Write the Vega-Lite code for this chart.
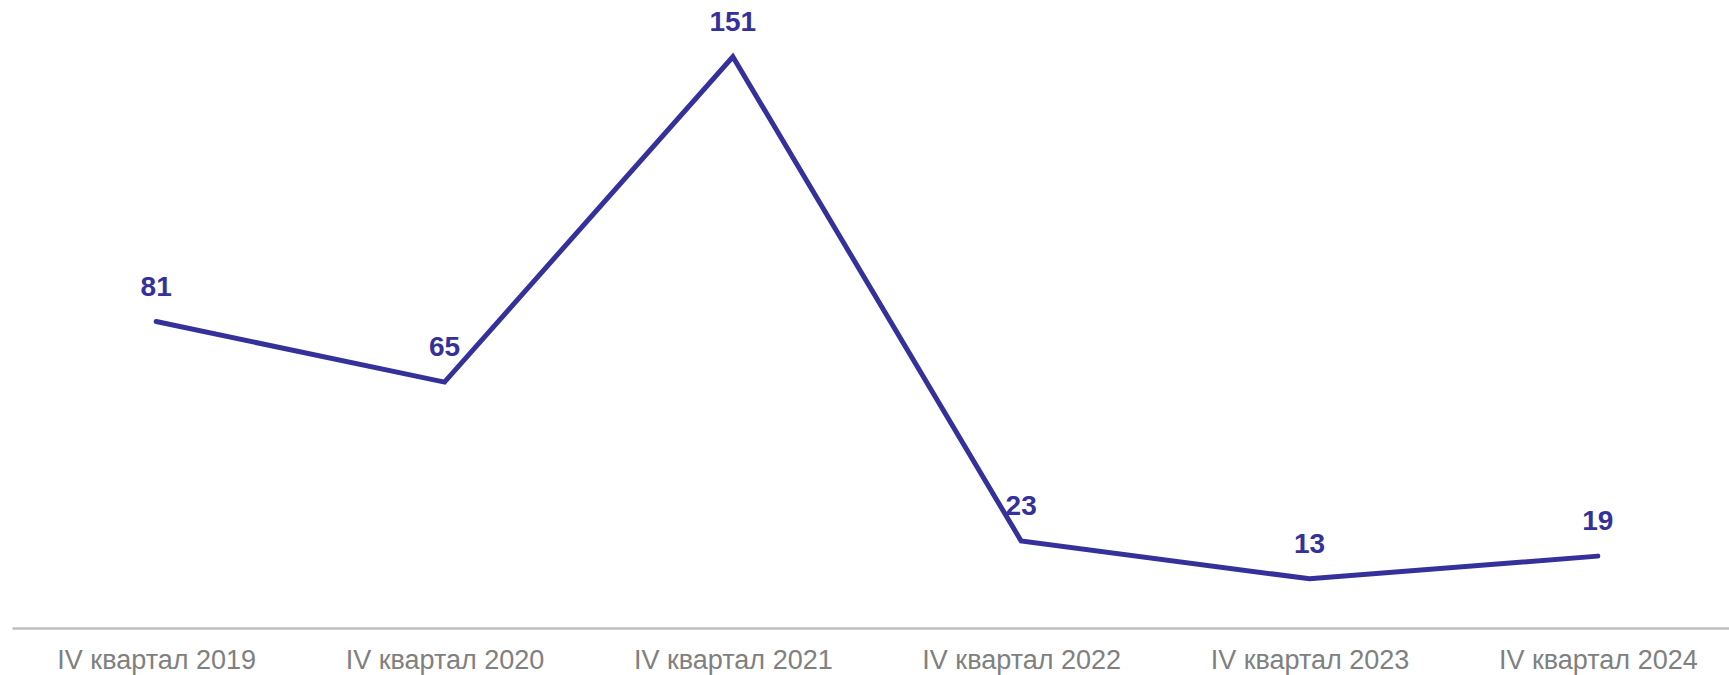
{
  "$schema": "https://vega.github.io/schema/vega-lite/v6.json",
  "autosize": {"type": "none"},
  "padding": {"left": 12, "top": 0, "right": 0, "bottom": 47},
  "width": 1730,
  "height": 628,
  "background": "white",
  "config": {"view": {"stroke": null}, "font": "Liberation Sans"},
  "data": {
    "values": [
      {"period": "IV квартал 2019", "value": 81},
      {"period": "IV квартал 2020", "value": 65},
      {"period": "IV квартал 2021", "value": 151},
      {"period": "IV квартал 2022", "value": 23},
      {"period": "IV квартал 2023", "value": 13},
      {"period": "IV квартал 2024", "value": 19}
    ]
  },
  "encoding": {
    "x": {
      "field": "period",
      "type": "nominal",
      "sort": null,
      "scale": {"type": "point", "padding": 0.5},
      "axis": {
        "title": null,
        "labelAngle": 0,
        "ticks": false,
        "grid": false,
        "domainColor": "#bfbfbf",
        "domainWidth": 2.5,
        "labelFont": "Liberation Sans",
        "labelFontSize": 27,
        "labelLimit": 0,
        "labelColor": "#808080",
        "labelPadding": 19
      }
    },
    "y": {
      "field": "value",
      "type": "quantitative",
      "scale": {"domain": [0, 166], "nice": false, "zero": true},
      "axis": null
    }
  },
  "layer": [
    {
      "mark": {"type": "line", "color": "#35319a", "strokeWidth": 5, "strokeCap": "round", "strokeJoin": "miter"}
    },
    {
      "mark": {"type": "text", "color": "#35319a", "fontWeight": "bold", "fontSize": 28, "font": "Liberation Sans", "dy": -34, "baseline": "middle"},
      "encoding": {"text": {"field": "value", "type": "quantitative"}}
    }
  ]
}
